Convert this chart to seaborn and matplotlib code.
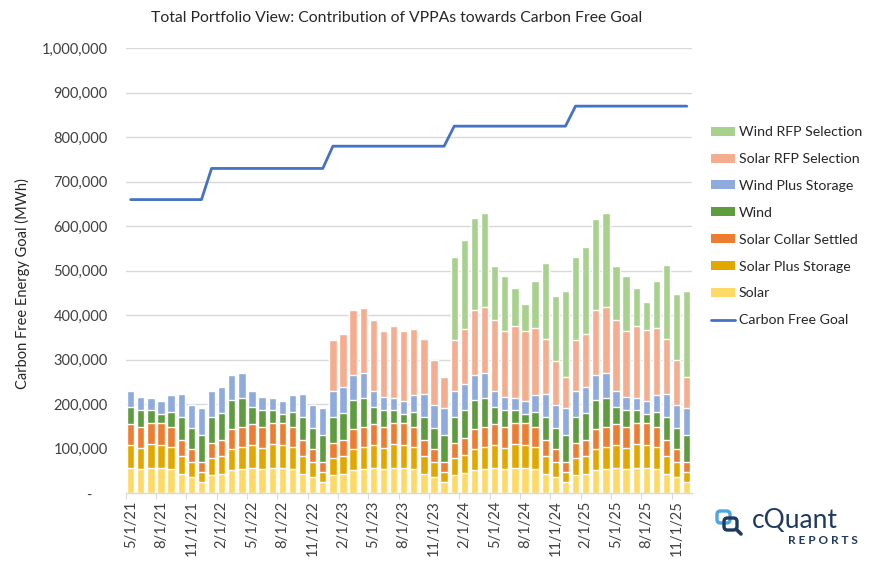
import numpy as np
import pandas as pd
import matplotlib
matplotlib.use("Agg")
import matplotlib.pyplot as plt
import seaborn as sns
from matplotlib.patches import Patch, FancyBboxPatch
from matplotlib.lines import Line2D
from matplotlib.ticker import FuncFormatter, FixedLocator

# ---------------- data ----------------
months = pd.date_range("2021-05-01", "2025-12-01", freq="MS")
month_labels = [f"{d.month}/1/{d.year % 100:02d}" for d in months]

solar = [57600, 53900, 57600, 57600, 55400, 43400, 36600, 25400,
         41100, 43400, 53000, 54600, 57600, 53900, 57600, 57600, 55400, 43400, 36600, 25400,
         41100, 43400, 53000, 54600, 57600, 53900, 57600, 57600, 55400, 43400, 36600, 25400,
         41100, 45000, 53000, 54600, 57600, 53900, 57600, 57600, 55400, 43400, 36600, 25400,
         41100, 43400, 53000, 54600, 57600, 53900, 57600, 57600, 55400, 43400, 36600, 25400]
solar_plus_storage = [50900, 48600, 53900, 51700, 48600, 39700, 33700, 23100,
                      38200, 39700, 47200, 48800, 50900, 48600, 53900, 51700, 48600, 39700, 33700, 23100,
                      38200, 39700, 47200, 48800, 50900, 48600, 53900, 51700, 48600, 39700, 33700, 23100,
                      38200, 41500, 47200, 48800, 50900, 48600, 53900, 51700, 48600, 39700, 33700, 23100,
                      38200, 39700, 47200, 48800, 50900, 48600, 53900, 51700, 48600, 39700, 33700, 23100]
solar_collar = [47200, 45800, 47200, 48000, 45700, 35900, 29900, 21800,
                34400, 35900, 44300, 44900, 47200, 45800, 47200, 48000, 45700, 35900, 29900, 21800,
                34400, 35900, 44300, 44900, 47200, 45800, 47200, 48000, 45700, 35900, 29900, 21800,
                34400, 37500, 44300, 44900, 47200, 45800, 47200, 48000, 45700, 35900, 29900, 21800,
                34400, 35900, 44300, 44900, 47200, 45800, 47200, 48000, 45700, 35900, 29900, 21800]
wind = [37300, 38700, 27800, 20900, 33000, 51800, 46500, 60000,
        57800, 61400, 65200, 66500, 37300, 38700, 27800, 20900, 33000, 51800, 46500, 60000,
        57800, 61400, 65200, 66500, 37300, 38700, 27800, 20900, 33000, 51800, 46500, 60000,
        57800, 63500, 65200, 66500, 37300, 38700, 27800, 20900, 33000, 51800, 46500, 60000,
        57800, 61400, 65200, 66500, 37300, 38700, 27800, 20900, 33000, 51800, 46500, 60000]
wind_plus_storage = [37600, 30000, 28500, 28500, 37300, 53200, 51700, 60700,
                     59100, 57800, 56100, 54900, 37600, 30000, 28500, 28500, 37300, 53200, 51700, 60700,
                     59100, 57800, 56100, 54900, 37600, 30000, 28500, 28500, 37300, 53200, 51700, 60700,
                     59100, 59000, 56100, 54900, 37600, 30000, 28500, 28500, 37300, 53200, 51700, 60700,
                     59100, 57800, 56100, 54900, 37600, 30000, 28500, 28500, 37300, 53200, 51700, 60700]
solar_rfp = [0, 0, 0, 0, 0, 0, 0, 0,
             0, 0, 0, 0, 0, 0, 0, 0, 0, 0, 0, 0,
             113900, 119100, 146800, 146000, 158800, 147700, 160300, 158000, 149900, 122000, 100500, 71000,
             115000, 123600, 146100, 148300, 158800, 147700, 160900, 158000, 151500, 122000, 99600, 71000,
             115000, 119800, 146100, 148300, 158800, 147700, 160900, 160300, 151500, 122000, 101000, 71000]
wind_rfp = [0, 0, 0, 0, 0, 0, 0, 0,
            0, 0, 0, 0, 0, 0, 0, 0, 0, 0, 0, 0,
            0, 0, 0, 0, 0, 0, 0, 0, 0, 0, 0, 0,
            185700, 200000, 207400, 211200, 121400, 123600, 86100, 60700, 106300, 172300, 145300, 192600,
            185700, 194800, 204500, 211200, 121400, 123600, 86100, 62900, 106300, 167000, 148400, 193300]
carbon_free_goal = [660000] * 8 + [730000] * 12 + [780000] * 12 + [825000] * 12 + [870000] * 12

series_names = ["Solar", "Solar Plus Storage", "Solar Collar Settled", "Wind",
                "Wind Plus Storage", "Solar RFP Selection", "Wind RFP Selection"]
series_values = [solar, solar_plus_storage, solar_collar, wind,
                 wind_plus_storage, solar_rfp, wind_rfp]
series_colors = ["#FFD966", "#E3A800", "#ED7D31", "#5E9C3F",
                 "#8FAADC", "#F4AD8E", "#A9D18E"]
line_color = "#4472C4"

df = pd.DataFrame({"month": month_labels})
for n, v in zip(series_names, series_values):
    df[n] = v
df["Carbon Free Goal"] = carbon_free_goal

# ---------------- style ----------------
sns.set_theme(style="white")
plt.rcParams["font.family"] = ["Lato", "DejaVu Sans"]
text_color = "#404040"

fig = plt.figure(figsize=(8.7, 5.62), dpi=100)
ax = fig.add_axes([0.1444, 0.1222, 0.6508, 0.7919])

# stacked bars drawn as cumulative layers, tallest first
cum = np.cumsum(np.array([df[n].values for n in series_names], dtype=float), axis=0)
for k in range(len(series_names) - 1, -1, -1):
    sns.barplot(x=df["month"], y=cum[k], color=series_colors[k], width=0.72,
                saturation=1, order=month_labels, ax=ax, zorder=2, errorbar=None)

x_pos = np.arange(len(month_labels))
sns.lineplot(x=x_pos, y=df["Carbon Free Goal"].values, color=line_color,
             linewidth=2.0, ax=ax, zorder=3)

ax.set_xlim(-0.5, len(month_labels) - 0.5)
ax.set_ylim(0, 1_000_000)
ax.set_yticks(np.arange(0, 1_000_001, 100_000))
ax.yaxis.set_major_formatter(FuncFormatter(lambda v, p: "-    " if v == 0 else f"{int(v):,}"))
ax.grid(axis="y", color="#D9D9D9", linewidth=1.0, zorder=0)
ax.set_axisbelow(True)

major = list(range(0, len(month_labels), 3))
ax.xaxis.set_major_locator(FixedLocator(major))
ax.set_xticklabels([month_labels[i] for i in major], rotation=90)
ax.xaxis.set_minor_locator(FixedLocator([i - 0.5 for i in major]))
ax.tick_params(axis="x", which="major", length=0, pad=5, labelsize=10.5, labelcolor=text_color)
ax.tick_params(axis="x", which="minor", length=4, width=0.8, color="#D9D9D9", bottom=True)
ax.tick_params(axis="y", length=0, pad=13, labelsize=10.5, labelcolor=text_color)
ax.set_xlabel("")
ax.set_ylabel("")
for s in ["top", "right", "left"]:
    ax.spines[s].set_visible(False)
ax.spines["bottom"].set_color("#D9D9D9")
ax.spines["bottom"].set_linewidth(1.0)

fig.text(0.456, 0.968, "Total Portfolio View: Contribution of VPPAs towards Carbon Free Goal",
         ha="center", va="center", fontsize=11.3, color="#262626")
fig.text(0.026, 0.495, "Carbon Free Energy Goal (MWh)", rotation=90,
         ha="center", va="center", fontsize=10.5, color="#262626")

# legend
handles = [Patch(facecolor=series_colors[k], edgecolor="none") for k in range(6, -1, -1)]
labels = [series_names[k] for k in range(6, -1, -1)]
handles.append(Line2D([0], [0], color=line_color, linewidth=2.0))
labels.append("Carbon Free Goal")
fig.legend(handles, labels, loc="upper left", bbox_to_anchor=(0.809, 0.788),
           frameon=False, fontsize=10.2, borderpad=0, handlelength=1.7,
           handleheight=0.6, handletextpad=0.25, labelspacing=1.05,
           labelcolor="#262626")

# cQuant logo
lax = fig.add_axes([705 / 870, 1 - 550 / 562, 160 / 870, 48 / 562])
lax.set_xlim(0, 160)
lax.set_ylim(0, 48)
lax.axis("off")
lax.add_patch(FancyBboxPatch((12, 27), 13, 12, boxstyle="round,pad=0,rounding_size=3.5",
                             fill=False, edgecolor="#4BA6E3", linewidth=2.4))
lax.add_patch(FancyBboxPatch((19, 20), 13, 12, boxstyle="round,pad=0,rounding_size=3.5",
                             fill=False, edgecolor="#1E3A5F", linewidth=2.4))
lax.plot([31, 36], [21, 16], color="#1E3A5F", linewidth=2.6, solid_capstyle="round")
lax.text(47, 30, "cQuant", fontsize=19, color="#1E3A5F", ha="left", va="center")
lax.text(153, 10, "R E P O R T S", fontsize=8.5, color="#1E3A5F", ha="right",
         va="center", fontweight="bold")

fig.savefig("out.png", dpi=100, facecolor="white")
